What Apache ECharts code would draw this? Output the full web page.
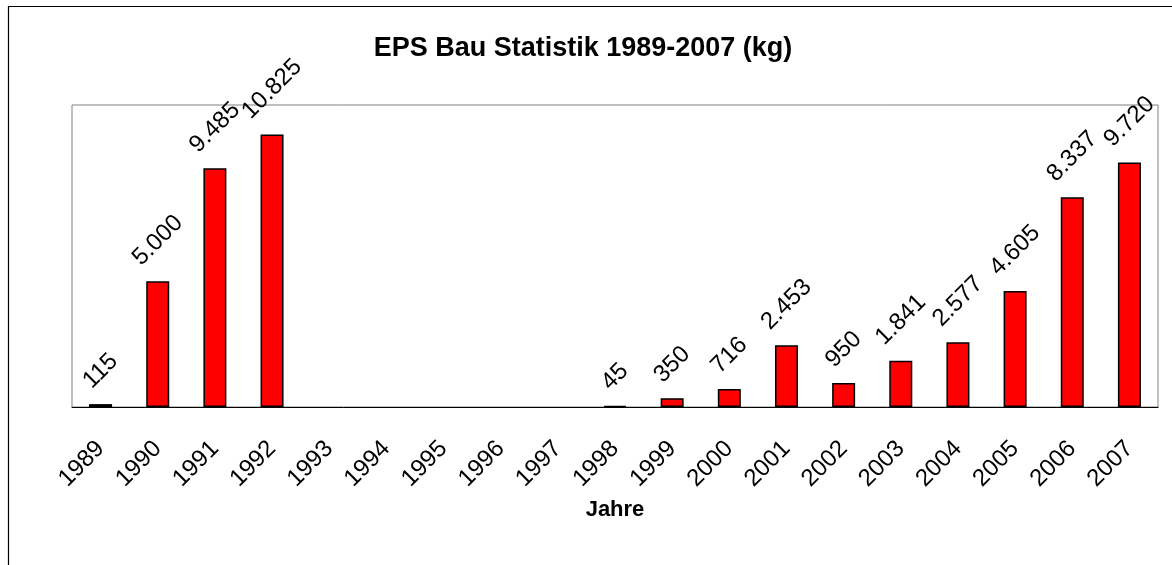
<!DOCTYPE html>
<html>
<head>
<meta charset="utf-8">
<script src="https://cdn.jsdelivr.net/npm/echarts@6/dist/echarts.min.js"></script>
<style>
  html, body { margin: 0; padding: 0; background: #fff; }
  #chart { width: 1172px; height: 565px; }
</style>
</head>
<body>
<div id="chart"></div>
<script>
// Jahre
var years = ['1989', '1990', '1991', '1992', '1993', '1994', '1995', '1996', '1997', '1998',
             '1999', '2000', '2001', '2002', '2003', '2004', '2005', '2006', '2007'];
// EPS Menge in kg (leere Jahre ohne Wert)
var amounts = [115, 5000, 9485, 10825, null, null, null, null, null, 45,
               350, 716, 2453, 950, 1841, 2577, 4605, 8337, 9720];

// 10825 -> "10.825"
function deNumber(v) {
    if (v < 1000) return String(v);
    var rest = String(v % 1000);
    while (rest.length < 3) rest = '0' + rest;
    return Math.floor(v / 1000) + '.' + rest;
}

var font = "'Liberation Sans', Arial, sans-serif";

function drawChart() {
    var myChart = echarts.init(document.getElementById('chart'));
    var options = {
        animation: false,
        title: {
            text: 'EPS Bau Statistik 1989-2007 (kg)',
            left: 578,
            top: 30,
            textAlign: 'center',
            textStyle: { fontFamily: font, fontSize: 27, fontWeight: 'bold', color: '#000' }
        },
        // Rahmen um das ganze Diagramm
        graphic: [{
            type: 'rect',
            shape: { x: 8.5, y: 6.5, width: 1200, height: 620 },
            style: { fill: null, stroke: '#000', lineWidth: 1.2 },
            silent: true
        }],
        grid: {
            left: 72, right: 14, top: 105, bottom: 158,
            show: true, borderColor: '#808080', borderWidth: 1, backgroundColor: '#fff'
        },
        xAxis: {
            type: 'category',
            data: years,
            name: 'Jahre',
            nameLocation: 'middle',
            nameGap: 92,
            nameMoveOverlap: false,
            nameTextStyle: { fontFamily: font, fontSize: 22, fontWeight: 'bold', color: '#000' },
            axisLine: { lineStyle: { color: '#000', width: 1 } },
            axisTick: { length: 8, lineStyle: { color: '#000' } },
            axisLabel: {
                rotate: 45, margin: 38, interval: 0,
                fontFamily: font, fontSize: 24, color: '#000'
            }
        },
        yAxis: {
            type: 'value',
            min: 0, max: 12000,
            axisLine: { show: false },
            axisTick: { show: false },
            axisLabel: { show: false },
            splitLine: { show: false }
        },
        series: [{
            type: 'bar',
            data: amounts,
            barWidth: 23,
            itemStyle: { color: '#ff0000', borderColor: '#000', borderWidth: 1.5 },
            label: {
                show: true,
                position: 'top',
                rotate: 45,
                align: 'center',
                verticalAlign: 'middle',
                fontFamily: font, fontSize: 24, color: '#000',
                formatter: function (p) { return deNumber(p.value); }
            }
        }],
        labelLayout: function (p) {
            return {
                x: p.rect.x + p.rect.width / 2,
                y: p.rect.y - 11 - p.labelRect.height / 2,
                align: 'center',
                verticalAlign: 'middle'
            };
        }
    };
    myChart.setOption(options);
}
drawChart();
</script>
</body>
</html>
